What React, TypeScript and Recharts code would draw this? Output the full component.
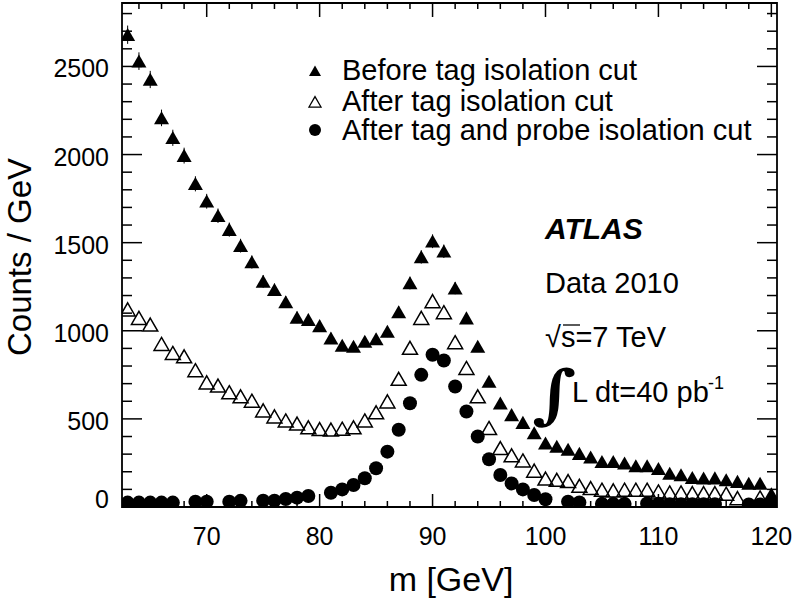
import { ScatterChart, Scatter, XAxis, YAxis, ReferenceArea, ErrorBar } from 'recharts';

// dimuon mass bins (GeV), 1 GeV wide
const mass = [
  63, 64, 65, 66, 67, 68, 69, 70, 71, 72, 73, 74, 75, 76, 77, 78, 79, 80, 81, 82,
  83, 84, 85, 86, 87, 88, 89, 90, 91, 92, 93, 94, 95, 96, 97, 98, 99, 100, 101, 102,
  103, 104, 105, 106, 107, 108, 109, 110, 111, 112, 113, 114, 115, 116, 117, 118, 119, 120,
];

const beforeTag = [
  2680, 2530, 2426, 2208, 2095, 1994, 1834, 1735, 1653, 1574, 1483, 1390, 1280, 1233, 1163, 1076, 1063, 1028, 958, 917,
  911, 939, 953, 996, 1107, 1271, 1419, 1508, 1451, 1242, 1072, 911, 712, 589, 523, 479, 420, 362, 343, 326,
  303, 282, 257, 257, 248, 233, 233, 217, 190, 182, 166, 163, 164, 153, 144, 134, 134, 74,
];

const beforeTagErr = [
  52, 50, 49, 47, 46, 45, 43, 42, 41, 40, 39, 37, 36, 35, 34, 33, 33, 32, 31, 30,
  30, 31, 31, 32, 33, 36, 38, 39, 38, 35, 33, 30, 27, 24, 23, 22, 21, 19, 19, 18,
  17, 17, 16, 16, 16, 15, 15, 15, 14, 13, 13, 13, 13, 12, 12, 12, 12, 9,
];

const afterTag = [
  1120, 1072, 1034, 924, 873, 854, 775, 706, 688, 650, 627, 602, 547, 513, 490, 472, 451, 441, 438, 443,
  451, 490, 536, 598, 726, 902, 1072, 1167, 1104, 934, 788, 627, 447, 333, 292, 263, 205, 160, 153, 146,
  119, 106, 97, 93, 97, 97, 97, 87, 81, 81, 78, 78, 78, 74, 49, null, 53, 45,
];

const afterTagProbe = [
  25, 25, 25, 25, 25, null, 30, 30, null, 30, 35, null, 36, 36, 45, 53, 62, null, 81, 100,
  125, 163, 220, 314, 438, 589, 750, 864, 831, 684, 542, 400, 271, 182, 134, 100, 68, 44, null, 30,
  26, null, 18, 18, 18, null, 20, 18, 16, 16, 16, 16, 16, null, null, 14, 14, 14,
];

const xTicks = [
  64, 66, 68, 70, 72, 74, 76, 78, 80, 82, 84, 86, 88, 90, 92, 94, 96, 98, 100,
  102, 104, 106, 108, 110, 112, 114, 116, 118, 120,
];
const xLabels = [70, 80, 90, 100, 110, 120];
const yTicks = [
  0, 100, 200, 300, 400, 500, 600, 700, 800, 900, 1000, 1100, 1200, 1300, 1400,
  1500, 1600, 1700, 1800, 1900, 2000, 2100, 2200, 2300, 2400, 2500, 2600, 2700, 2800,
];
const yLabels = [0, 500, 1000, 1500, 2000, 2500];

const W = 796;
const H = 600;
const plotLeft = 122;
const plotRight = 777;
const plotTop = 3;
const plotBottom = 507;
const plotW = plotRight - plotLeft;
const plotH = plotBottom - plotTop;
const FONT = '"Liberation Sans", Arial, Helvetica, sans-serif';

const toPoints = (vals: (number | null)[], errs?: number[]) =>
  mass
    .map((m, i) => ({ m, v: vals[i], err: errs ? errs[i] : 0 }))
    .filter((p) => p.v !== null);

const beforeData = toPoints(beforeTag, beforeTagErr);
const afterTagData = toPoints(afterTag);
const afterBothData = toPoints(afterTagProbe);

const triPath = (cx: number, cy: number, s: number) =>
  `M${cx},${cy - s * 0.45} L${cx + s / 2},${cy + s * 0.42} L${cx - s / 2},${cy + s * 0.42} Z`;

const FilledTriangle = (props: any) => <path d={triPath(props.cx, props.cy, 15)} fill="#000" />;
const OpenTriangle = (props: any) => (
  <path d={triPath(props.cx, props.cy, 15)} fill="none" stroke="#000" strokeWidth={1.5} />
);
const Dot = (props: any) => <circle cx={props.cx} cy={props.cy} r={7} fill="#000" />;

const XTick = (props: any) => {
  const { x, y, payload } = props;
  const major = xLabels.includes(payload.value);
  const top = y - plotH;
  return (
    <g>
      <line x1={x} x2={x} y1={y} y2={y - (major ? 13 : 6)} stroke="#000" strokeWidth={1.5} />
      <line x1={x} x2={x} y1={top} y2={top + (major ? 14 : 6)} stroke="#000" strokeWidth={1.5} />
      {major && (
        <text x={x} y={y + 38} textAnchor="middle" fontSize={25} fontFamily={FONT} fill="#000">
          {payload.value}
        </text>
      )}
    </g>
  );
};

const YTick = (props: any) => {
  const { x, y, payload } = props;
  const major = yLabels.includes(payload.value);
  const right = x + plotW;
  return (
    <g>
      <line x1={x} x2={x + (major ? 20 : 10)} y1={y} y2={y} stroke="#000" strokeWidth={1.5} />
      <line x1={right} x2={right - (major ? 20 : 10)} y1={y} y2={y} stroke="#000" strokeWidth={1.5} />
      {major && (
        <text
          x={x - 13}
          y={payload.value === 0 ? y + 1 : y + 11}
          textAnchor="end"
          fontSize={25}
          fontFamily={FONT}
          fill="#000"
        >
          {payload.value}
        </text>
      )}
    </g>
  );
};

export default function App() {
  return (
    <div style={{ position: 'absolute', left: 0, top: 0, width: W, height: H, background: '#fff' }}>
      <ScatterChart
        width={W}
        height={H}
        margin={{ top: plotTop, right: W - plotRight, bottom: 0, left: 0 }}
      >
        <XAxis
          type="number"
          dataKey="m"
          domain={[62.5, 120.5]}
          allowDataOverflow
          ticks={xTicks}
          interval={0}
          tick={<XTick />}
          tickSize={0}
          tickMargin={0}
          tickLine={false}
          axisLine={false}
          height={H - plotBottom}
        />
        <YAxis
          type="number"
          dataKey="v"
          domain={[0, 2860]}
          allowDataOverflow
          ticks={yTicks}
          interval={0}
          tick={<YTick />}
          tickSize={0}
          tickMargin={0}
          tickLine={false}
          axisLine={false}
          width={plotLeft}
        />
        <ReferenceArea
          x1={62.5}
          x2={120.5}
          y1={0}
          y2={2860}
          fill="none"
          fillOpacity={0}
          stroke="#000"
          strokeWidth={1.8}
          ifOverflow="visible"
        />
        <Scatter data={beforeData} shape={<FilledTriangle />} isAnimationActive={false}>
          <ErrorBar dataKey="err" direction="y" width={0} stroke="#000" strokeWidth={1} />
        </Scatter>
        <Scatter data={afterTagData} shape={<OpenTriangle />} isAnimationActive={false} />
        <Scatter data={afterBothData} shape={<Dot />} isAnimationActive={false} />
      </ScatterChart>

      <svg
        width={W}
        height={H}
        style={{ position: 'absolute', left: 0, top: 0, pointerEvents: 'none' }}
        fontFamily={FONT}
      >
        {/* axis titles */}
        <text x={451} y={591} textAnchor="middle" fontSize={34}>
          m [GeV]
        </text>
        <text x={0} y={0} textAnchor="middle" fontSize={33} transform="translate(31,257) rotate(-90)">
          Counts / GeV
        </text>

        {/* legend */}
        <path d={triPath(315, 71, 12)} fill="#000" />
        <text x={342} y={80} fontSize={29}>Before tag isolation cut</text>
        <path d={triPath(315, 102, 12)} fill="none" stroke="#000" strokeWidth={1.3} />
        <text x={342} y={111} fontSize={29}>After tag isolation cut</text>
        <circle cx={315} cy={130} r={6} fill="#000" />
        <text x={342} y={140} fontSize={29}>After tag and probe isolation cut</text>

        {/* ATLAS labels */}
        <text x={545} y={239} fontSize={30} fontWeight="bold" fontStyle="italic">ATLAS</text>
        <text x={545} y={293} fontSize={29}>Data 2010</text>
        <text x={545} y={347} fontSize={29}>√s=7 TeV</text>
        <line x1={563} x2={580} y1={325} y2={325} stroke="#000" strokeWidth={1.3} />
        <text
          x={0}
          y={0}
          fontSize={64}
          fontWeight="bold"
          fontFamily='"DejaVu Serif", serif'
          transform="translate(532,416) scale(1.2,1)"
        >
          ∫
        </text>
        <text x={572} y={402} fontSize={29}>L dt=40 pb</text>
        <text x={708} y={389} fontSize={18}>-1</text>
      </svg>
    </div>
  );
}
